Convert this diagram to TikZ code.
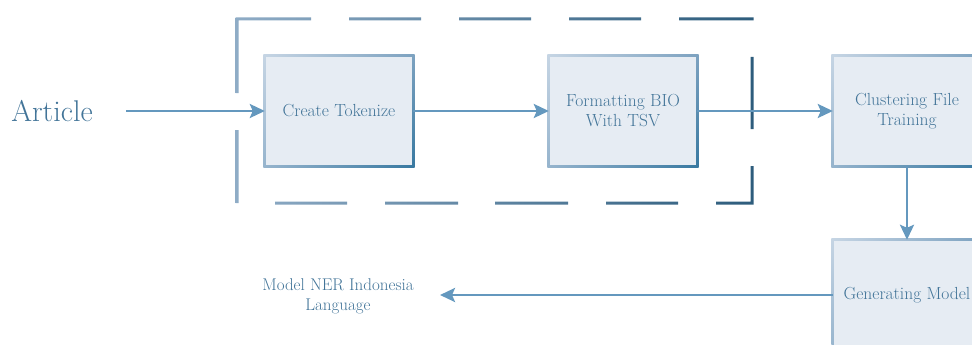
\documentclass[tikz,border=0pt]{standalone}
\usepackage{fontspec}
\usetikzlibrary{arrows.meta,calc,backgrounds,shadings}
\definecolor{txtc}{RGB}{66,116,152}
\definecolor{arrc}{RGB}{100,152,190}
\definecolor{boxfill}{RGB}{230,236,243}
\definecolor{bUL}{RGB}{198,213,228}
\definecolor{bUR}{RGB}{125,162,192}
\definecolor{bLL}{RGB}{150,180,205}
\definecolor{bLR}{RGB}{55,120,160}
\definecolor{dashL}{RGB}{143,172,198}
\definecolor{dashR}{RGB}{45,92,124}
\newcommand{\gborder}[1]{%
  \shade[upper left=bUL,upper right=bUR,lower left=bLL,lower right=bLR]
    ($(#1.north west)+(-1.5pt,1.5pt)$) rectangle ($(#1.south east)+(1.5pt,-1.5pt)$);
  \fill[boxfill] ($(#1.north west)+(1.5pt,-1.5pt)$) rectangle ($(#1.south east)+(-1.5pt,1.5pt)$);}
\tikzset{
  procbox/.style={minimum width=148pt,minimum height=110pt,inner sep=0pt,align=center,
    text=txtc,font=\fontsize{17.5}{20}\selectfont},
  flow/.style={draw=arrc,line width=2.7pt,-{Stealth[length=15pt,width=14pt,inset=3pt]}},
  lbl/.style={text=txtc,align=center,inner sep=0pt}
}
\begin{document}
\begin{tikzpicture}[x=1pt,y=-1pt]
\useasboundingbox (0,0) rectangle (972,345);
\clip (0,0) rectangle (972,345);
% dashed group frame
\begin{scope}
\clip
  (235.5,17.5) rectangle (311,20.5)
  (349,17.5) rectangle (421,20.5)
  (459,17.5) rectangle (531,20.5)
  (569,17.5) rectangle (641,20.5)
  (679,17.5) rectangle (753.5,20.5)
  (235.5,17.5) rectangle (238.5,93)
  (235.5,130) rectangle (238.5,203)
  (275,201.5) rectangle (347,204.5)
  (385,201.5) rectangle (458,204.5)
  (495,201.5) rectangle (568,204.5)
  (606,201.5) rectangle (678,204.5)
  (716,201.5) rectangle (753.5,204.5)
  (750.5,57) rectangle (753.5,129)
  (750.5,166) rectangle (753.5,204.5);
\shade[left color=dashL,right color=dashR] (234,16) rectangle (755,206);
\end{scope}
% nodes
\node[procbox] (ct) at (339,111) {Create Tokenize};
\node[procbox] (fb) at (623,111) {Formatting BIO\\With TSV};
\node[procbox] (cf) at (907,111) {Clustering File\\Training};
\node[procbox] (gm) at (907,295) {Generating Model};
\node[lbl,font=\fontsize{30}{32}\selectfont] (art) at (52,111) {Article};
\node[lbl,font=\fontsize{17}{20}\selectfont] (ner) at (338,296) {Model NER Indonesia\\Language};
\coordinate (artout) at (126,111);
\coordinate (nerin) at (440,295);
\begin{scope}[on background layer]
\gborder{ct}\gborder{fb}\gborder{cf}\gborder{gm}
\end{scope}
% connectors
\draw[flow] (artout) -- (ct.west);
\draw[flow] (ct.east) -- (fb.west);
\draw[flow] (fb.east) -- (cf.west);
\draw[flow] (cf.south) -- (gm.north);
\draw[flow] (gm.west) -- (nerin);
\end{tikzpicture}
\end{document}
